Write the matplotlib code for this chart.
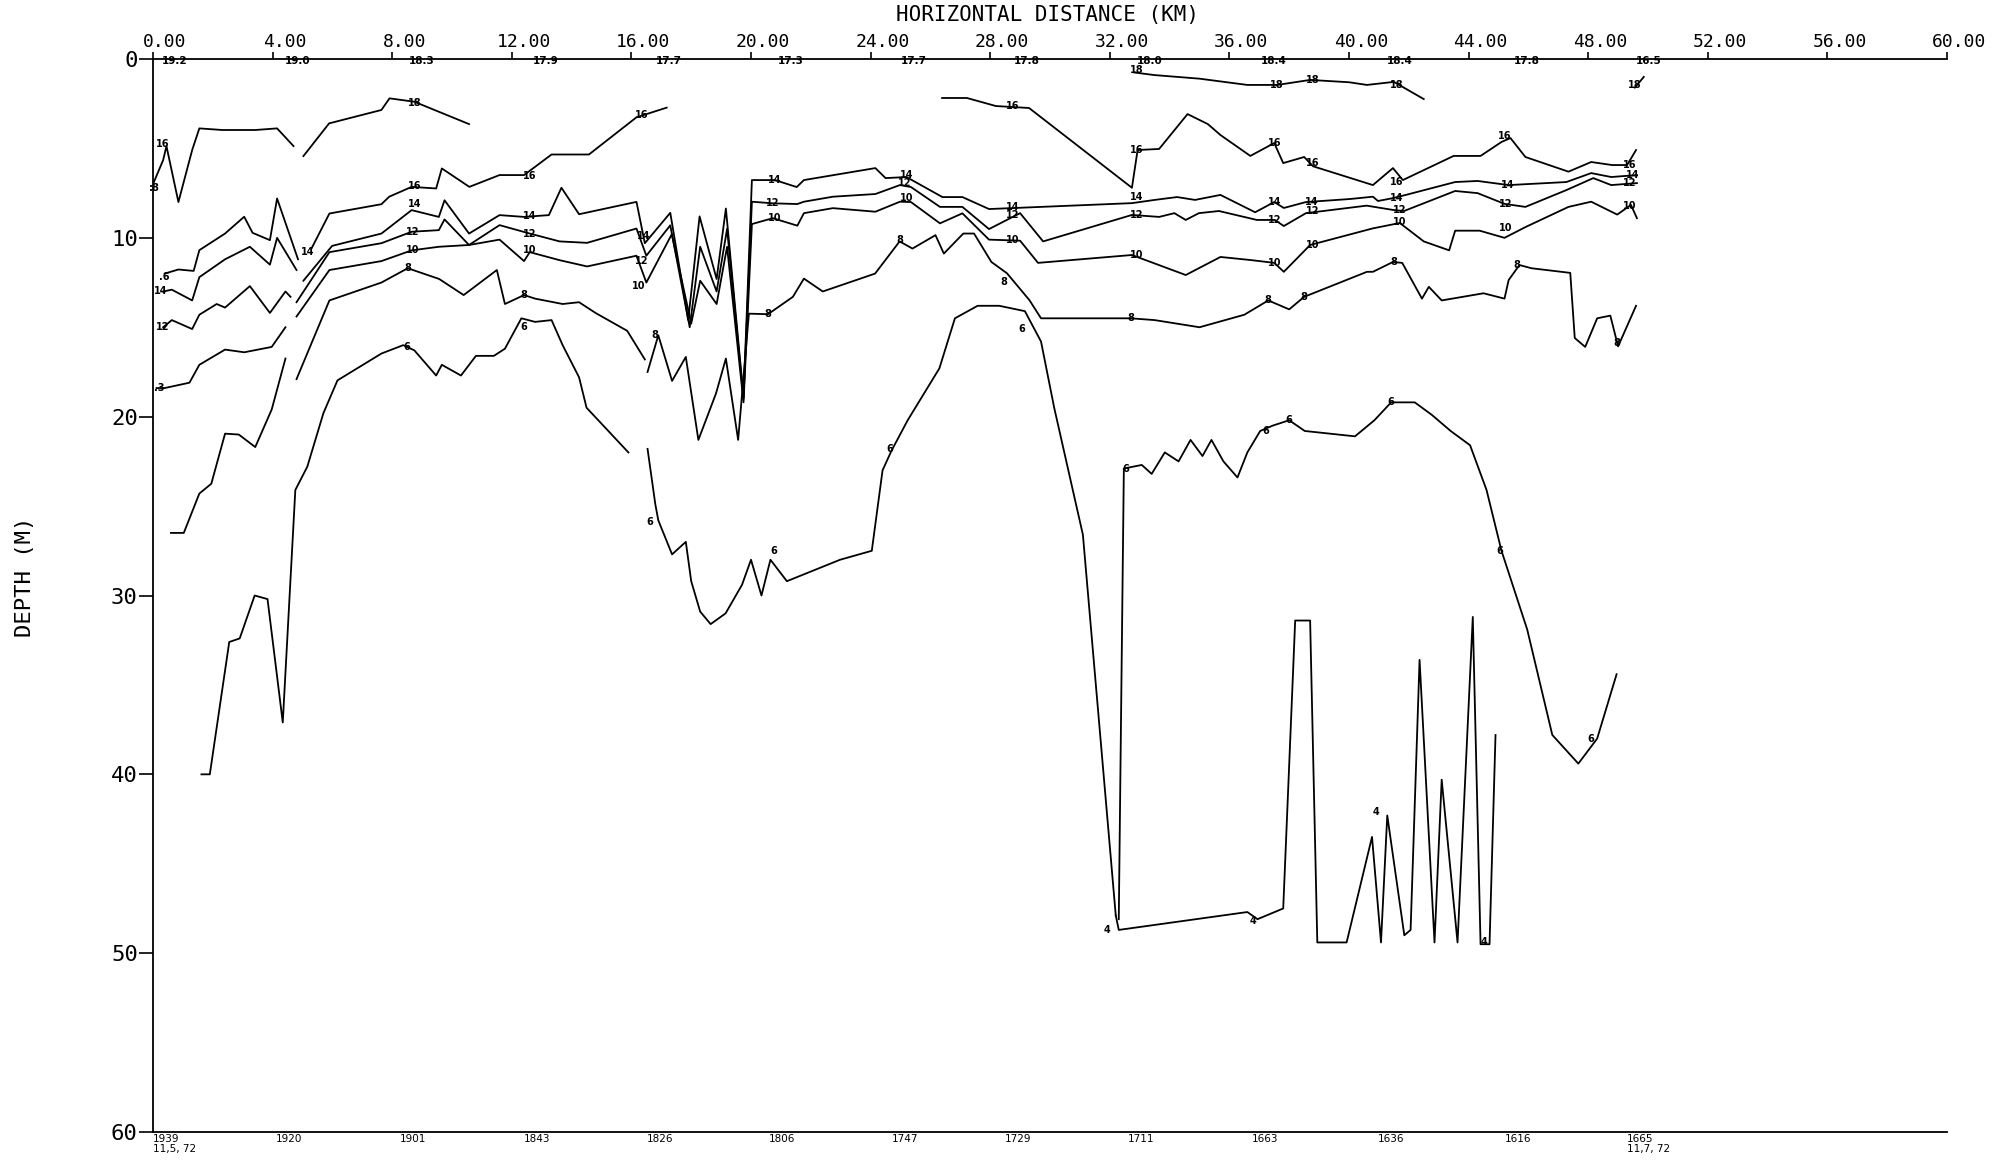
import matplotlib
matplotlib.use("Agg")
import matplotlib.pyplot as plt
from matplotlib import transforms

# Isotherm traces: horizontal distance (km) and depth (m)
iso18_a_km = [0.0, 0.34, 0.45, 0.85, 1.31, 1.55, 2.32, 3.42, 4.15, 4.70]
iso18_a_m = [7.0, 5.65, 4.87, 8.0, 5.09, 3.88, 3.97, 3.97, 3.88, 4.87]
iso18_b_km = [5.03, 5.89, 7.64, 7.91, 8.74, 10.57]
iso18_b_m = [5.43, 3.60, 2.85, 2.2, 2.39, 3.64]
iso18_c_km = [32.8, 33.5, 35.0, 36.6, 37.6, 38.7, 40.0, 40.6, 41.5, 42.5]
iso18_c_m = [0.75, 0.9, 1.1, 1.45, 1.45, 1.17, 1.3, 1.45, 1.28, 2.24]
iso18_d_km = [49.56, 49.86]
iso18_d_m = [1.6, 1.0]

iso16_a_km = [0.39, 0.85, 1.36, 1.55, 2.41, 3.05, 3.33, 3.91, 4.15, 4.85]
iso16_a_m = [12.0, 11.77, 11.85, 10.69, 9.76, 8.82, 9.72, 10.13, 7.8, 11.2]
iso16_b_km = [5.3, 5.9, 7.64, 7.9, 8.65, 9.47, 9.66, 10.58, 11.59, 12.41,
              13.33, 14.58, 16.17, 17.18]
iso16_b_m = [10.6, 8.64, 8.12, 7.7, 7.15, 7.24, 6.12, 7.15, 6.49, 6.49,
             5.34, 5.34, 3.26, 2.72]
iso16_c_km = [26.39, 27.22, 28.19, 29.3, 32.74, 32.93, 33.65, 34.6, 35.28, 35.7,
              36.7, 37.5, 37.8, 38.5, 38.8, 40.8, 41.47, 41.8, 43.5, 44.4,
              45.1, 45.4, 45.9, 47.34, 48.1, 48.8, 49.3, 49.6]
iso16_c_m = [2.18, 2.18, 2.63, 2.74, 7.2, 5.09, 5.03, 3.08, 3.64, 4.25,
             5.42, 4.7, 5.82, 5.48, 6.0, 7.05, 6.1, 6.77, 5.42, 5.42,
             4.64, 4.42, 5.48, 6.3, 5.76, 5.93, 5.93, 5.09]

iso14_a_km = [0.34, 0.63, 1.31, 1.55, 2.41, 3.24, 3.91, 4.15, 4.8]
iso14_a_m = [13.0, 12.9, 13.5, 12.2, 11.2, 10.5, 11.5, 10.0, 11.8]
iso14_b_km = [5.03, 5.99, 7.64, 8.65, 9.56, 9.75, 10.57, 11.59, 12.41, 13.24,
              13.66, 14.25, 16.17, 16.45, 17.3, 17.9, 18.28, 18.85, 19.16, 19.75,
              20.03, 20.8, 21.53, 21.77, 24.16, 24.5, 25.2, 26.4, 27.07, 27.96,
              32.74, 33.5, 34.25, 34.85, 35.7, 36.86, 37.5, 37.82, 38.56, 40.03,
              40.8, 40.97, 41.47, 41.9, 43.55, 44.3, 45.34, 47.27, 48.1, 48.77, 49.63]
iso14_b_m = [12.4, 10.45, 9.76, 8.45, 8.83, 7.9, 9.76, 8.73, 8.83, 8.73,
             7.2, 8.68, 7.99, 10.3, 8.6, 14.6, 8.8, 12.3, 8.36, 18.9,
             6.77, 6.77, 7.16, 6.77, 6.1, 6.66, 6.6, 7.72, 7.72, 8.39,
             8.06, 7.88, 7.72, 7.88, 7.6, 8.57, 8.0, 8.33, 8.0, 7.83,
             7.7, 7.94, 7.78, 7.6, 6.88, 6.82, 7.05, 6.88, 6.38, 6.6, 6.49]

iso12_a_km = [0.34, 0.63, 1.31, 1.55, 2.13, 2.41, 3.24, 3.91, 4.43, 4.6]
iso12_a_m = [15.0, 14.6, 15.1, 14.3, 13.7, 13.9, 12.7, 14.2, 13.0, 13.3]
iso12_b_km = [4.8, 5.9, 7.64, 8.65, 9.56, 9.75, 10.57, 11.59, 12.6, 13.6,
              14.52, 16.17, 16.5, 17.3, 17.95, 18.3, 18.85, 19.2, 19.75, 20.03,
              20.73, 21.55, 21.77, 22.74, 24.16, 24.98, 25.35, 26.32, 27.07, 27.96,
              29.0, 29.77, 32.74, 33.65, 34.16, 34.54, 34.98, 35.65, 36.92, 37.52,
              37.82, 38.56, 40.59, 41.47, 41.84, 43.55, 44.3, 45.2, 45.9, 47.27,
              48.17, 48.77, 49.63]
iso12_b_m = [13.6, 10.8, 10.3, 9.66, 9.57, 8.97, 10.4, 9.29, 9.76, 10.2,
             10.28, 9.48, 11.0, 9.3, 15.0, 10.5, 13.0, 9.5, 19.0, 7.98,
             8.07, 8.11, 7.98, 7.7, 7.55, 7.05, 7.16, 8.27, 8.27, 9.51,
             8.62, 10.2, 8.72, 8.83, 8.62, 9.0, 8.62, 8.5, 9.0, 9.0,
             9.34, 8.62, 8.2, 8.44, 8.5, 7.38, 7.5, 8.1, 8.27, 7.33,
             6.66, 7.05, 6.94]

iso10_a_km = [0.12, 0.39, 1.22, 1.55, 2.41, 3.05, 3.97, 4.43]
iso10_a_m = [18.4, 18.4, 18.1, 17.1, 16.25, 16.4, 16.1, 15.0]
iso10_b_km = [4.8, 5.9, 7.64, 8.65, 9.56, 10.57, 11.59, 12.41, 12.6, 13.6,
              14.52, 16.17, 16.5, 17.35, 18.0, 18.3, 18.85, 19.2, 19.75, 20.03,
              20.73, 21.55, 21.77, 22.74, 24.16, 24.98, 25.35, 26.32, 27.07, 27.96,
              29.0, 29.6, 32.74, 34.54, 35.7, 36.7, 37.5, 37.82, 38.7, 40.8,
              41.7, 42.5, 43.35, 43.55, 44.37, 45.2, 45.9, 47.34, 48.1, 48.97,
              49.43, 49.63]
iso10_b_m = [14.4, 11.8, 11.3, 10.7, 10.5, 10.4, 10.1, 11.3, 10.8, 11.25,
             11.6, 11.0, 12.5, 9.8, 14.8, 12.4, 13.7, 10.5, 19.2, 9.23,
             8.9, 9.32, 8.62, 8.34, 8.54, 7.98, 8.0, 9.19, 8.63, 10.1,
             10.16, 11.4, 10.96, 12.08, 11.07, 11.24, 11.4, 11.9, 10.4, 9.47,
             9.17, 10.2, 10.7, 9.6, 9.6, 10.0, 9.4, 8.27, 7.98, 8.7,
             8.16, 8.9]

iso8_a_km = [0.6, 1.03, 1.55, 1.95, 2.41, 2.87, 3.42, 3.97, 4.43]
iso8_a_m = [26.5, 26.5, 24.3, 23.75, 20.95, 21.0, 21.7, 19.6, 16.75]
iso8_b_km = [4.8, 5.9, 7.64, 8.52, 9.57, 10.39, 11.5, 11.77, 12.41, 12.78,
             13.7, 14.25, 14.8, 15.86, 16.45]
iso8_b_m = [17.9, 13.5, 12.5, 11.7, 12.3, 13.2, 11.8, 13.7, 13.2, 13.4,
            13.7, 13.6, 14.2, 15.2, 16.8]
iso8_c_km = [16.54, 16.9, 17.36, 17.82, 18.24, 18.83, 19.16, 19.57, 19.93, 20.57,
             21.4, 21.77, 22.4, 24.15, 24.97, 25.4, 26.17, 26.45, 27.1, 27.46,
             28.04, 28.56, 29.31, 29.7, 32.7, 33.5, 35.0, 36.5, 37.3, 38.0,
             38.5, 40.6, 40.8, 41.47, 41.78, 42.44, 42.67, 43.1, 44.5, 45.2,
             45.34, 45.7, 46.1, 47.4, 47.55, 47.9, 48.3, 48.74, 49.0, 49.6]
iso8_c_m = [17.5, 15.45, 18.0, 16.66, 21.3, 18.7, 16.75, 21.3, 14.24, 14.27,
            13.3, 12.28, 13.0, 12.0, 10.2, 10.6, 9.85, 10.88, 9.76, 9.76,
            11.35, 11.98, 13.48, 14.5, 14.5, 14.6, 15.0, 14.3, 13.5, 14.0,
            13.3, 11.9, 11.9, 11.35, 11.4, 13.4, 12.74, 13.5, 13.1, 13.4,
            12.36, 11.52, 11.7, 11.96, 15.6, 16.1, 14.5, 14.35, 16.07, 13.8]

iso6_a_km = [1.62, 1.9, 2.55, 2.9, 3.4, 3.83, 4.34, 4.76, 5.16, 5.7,
             6.17, 7.64, 8.37, 8.74, 9.47, 9.66, 10.3, 10.8, 11.4, 11.77,
             12.32, 12.78, 13.33, 13.7, 14.25, 14.5, 15.9]
iso6_a_m = [40.0, 40.0, 32.6, 32.4, 30.0, 30.2, 37.1, 24.1, 22.8, 19.8,
            17.97, 16.47, 16.0, 16.29, 17.7, 17.1, 17.7, 16.6, 16.6, 16.2,
            14.5, 14.7, 14.6, 16.0, 17.8, 19.5, 22.0]
iso6_b_km = [16.54, 16.8, 16.9, 17.36, 17.82, 18.0, 18.3, 18.65, 19.15, 19.7,
             20.0, 20.35, 20.65, 21.2, 22.98, 24.04, 24.4, 24.7, 25.24, 26.3,
             26.82, 27.58, 28.3, 29.16, 29.7, 30.14, 31.1, 32.2]
iso6_b_m = [21.8, 24.9, 25.8, 27.7, 27.0, 29.2, 30.9, 31.6, 31.0, 29.4,
            28.0, 30.0, 28.0, 29.2, 28.0, 27.5, 23.0, 21.9, 20.2, 17.3,
            14.5, 13.8, 13.8, 14.1, 15.8, 19.5, 26.6, 47.9]
iso6_c_km = [32.3, 32.47, 33.07, 33.4, 33.84, 34.3, 34.7, 35.1, 35.4, 35.8,
             36.27, 36.6, 37.03, 37.45, 38.0, 38.52, 40.2, 40.85, 41.41, 42.2,
             42.77, 43.4, 44.05, 44.6, 45.1, 45.96, 46.8, 47.67, 48.3, 48.95]
iso6_c_m = [48.1, 22.9, 22.7, 23.2, 22.0, 22.5, 21.3, 22.2, 21.3, 22.5,
            23.4, 22.0, 20.8, 20.5, 20.2, 20.8, 21.1, 20.2, 19.2, 19.2,
            19.9, 20.8, 21.6, 24.1, 27.5, 31.9, 37.8, 39.4, 38.0, 34.4]

iso4_km = [32.2, 32.3, 36.6, 36.94, 37.8, 38.2, 38.7, 38.94, 39.92, 40.77,
           41.07, 41.28, 41.85, 42.06, 42.36, 42.86, 43.1, 43.63, 44.14, 44.4,
           44.7, 44.9]
iso4_m = [47.9, 48.7, 47.7, 48.1, 47.5, 31.4, 31.4, 49.4, 49.4, 43.5,
          49.4, 42.3, 49.0, 48.7, 33.6, 49.4, 40.3, 49.4, 31.2, 49.5,
          49.5, 37.8]

# Contour value labels written along the traces
lab_text = ["16", ":8", "18", ".6", "14", "12", ".3", "14",
            "16", "14", "12", "10", "8", "6",
            "16", "14", "12", "10", "8", "6",
            "16", "14", "12", "10", "8", "6", "8", "6",
            "14", "12", "10", "14", "12", "10", "8", "6",
            "16", "14", "12", "10", "8", "6", "4",
            "18", "16", "14", "12", "10", "8", "6",
            "18", "18", "16", "16", "14", "14", "12", "12", "10", "10",
            "8", "8", "6", "6", "4",
            "18", "16", "14", "12", "10", "8", "6", "4",
            "16", "14", "12", "10", "8", "6", "4",
            "18", "16", "14", "12", "10", "8", "6"]
lab_km = [0.33, 0.05, 8.74, 0.39, 0.25, 0.34, 0.2, 5.16,
          8.74, 8.74, 8.68, 8.68, 8.52, 8.47,
          12.6, 12.6, 12.6, 12.6, 12.41, 12.41,
          16.35, 16.4, 16.35, 16.26, 16.78, 16.63, 20.57, 20.76,
          20.8, 20.73, 20.8, 25.2, 25.15, 25.2, 24.98, 24.65,
          28.75, 28.75, 28.75, 28.75, 28.45, 29.06, 31.92,
          32.9, 32.9, 32.9, 32.9, 32.9, 32.7, 32.55,
          37.6, 38.8, 37.5, 38.8, 37.5, 38.75, 37.5, 38.8, 37.5, 38.8,
          37.3, 38.5, 37.2, 38.0, 36.8,
          41.6, 41.6, 41.6, 41.7, 41.7, 41.5, 41.4, 40.9,
          45.2, 45.3, 45.25, 45.25, 45.6, 45.03, 44.5,
          49.56, 49.4, 49.5, 49.4, 49.4, 48.95, 48.1]
lab_m = [4.75, 7.2, 2.45, 12.2, 13.0, 15.0, 18.4, 10.8,
         7.1, 8.1, 9.66, 10.7, 11.7, 16.1,
         6.55, 8.8, 9.76, 10.7, 13.2, 15.0,
         3.13, 9.9, 11.3, 12.7, 15.45, 25.9, 14.27, 27.5,
         6.77, 8.07, 8.9, 6.5, 6.95, 7.8, 10.1, 21.8,
         2.63, 8.3, 8.75, 10.1, 12.45, 15.1, 48.7,
         0.6, 5.09, 7.73, 8.72, 10.96, 14.5, 22.9,
         1.45, 1.17, 4.7, 5.82, 8.0, 8.0, 9.0, 8.5, 11.4, 10.4,
         13.5, 13.3, 20.8, 20.2, 48.2,
         1.45, 6.86, 7.8, 8.44, 9.1, 11.35, 19.2, 42.1,
         4.3, 7.05, 8.1, 9.43, 11.5, 27.5, 49.4,
         1.45, 5.9, 6.5, 6.95, 8.2, 15.9, 38.0]

# Stations: surface temperature on top, station number on bottom
station_km = [0.0, 4.1, 8.25, 12.4, 16.5, 20.6, 24.7, 28.5, 32.6, 36.75, 40.95, 45.2, 49.3]
station_id = ["1939", "1920", "1901", "1843", "1826", "1806", "1747",
              "1729", "1711", "1663", "1636", "1616", "1665"]
surface_temp = [19.2, 19.0, 18.3, 17.9, 17.7, 17.3, 17.7, 17.8, 18.0, 18.4, 18.4, 17.8, 16.5]
cruise_dates = ["11,5, 72", "11,7, 72"]

segments = [
    (iso18_a_km, iso18_a_m), (iso18_b_km, iso18_b_m), (iso18_c_km, iso18_c_m), (iso18_d_km, iso18_d_m),
    (iso16_a_km, iso16_a_m), (iso16_b_km, iso16_b_m), (iso16_c_km, iso16_c_m),
    (iso14_a_km, iso14_a_m), (iso14_b_km, iso14_b_m),
    (iso12_a_km, iso12_a_m), (iso12_b_km, iso12_b_m),
    (iso10_a_km, iso10_a_m), (iso10_b_km, iso10_b_m),
    (iso8_a_km, iso8_a_m), (iso8_b_km, iso8_b_m), (iso8_c_km, iso8_c_m),
    (iso6_a_km, iso6_a_m), (iso6_b_km, iso6_b_m), (iso6_c_km, iso6_c_m),
    (iso4_km, iso4_m),
]

mono = "DejaVu Sans Mono"

W, H = 1996, 1161
fig = plt.figure(figsize=(W / 100, H / 100), dpi=100)
ax = fig.add_axes([153 / W, 1 - 1132 / H, 1794 / W, 1073 / H])
ax.set_xlim(0, 60)
ax.set_ylim(60, 0)

for km, m in segments:
    ax.plot(km, m, color="black", lw=1.3)

for t, x, y in zip(lab_text, lab_km, lab_m):
    ax.text(x, y, t, ha="center", va="center", fontsize=7, fontweight="bold")

for x, t in zip(station_km, surface_temp):
    ax.text(x + 0.3, 0.1, f"{t:.1f}", ha="left", va="center", fontsize=7.5,
            fontweight="bold", clip_on=False)

for x, s in zip(station_km, station_id):
    ax.text(x, 60.4, s, ha="left", va="center", fontsize=7.5, clip_on=False)
ax.text(station_km[0], 60.95, cruise_dates[0], ha="left", va="center", fontsize=7.5, clip_on=False)
ax.text(station_km[-1], 60.95, cruise_dates[1], ha="left", va="center", fontsize=7.5, clip_on=False)

# axes frame: no right side, ticks only on top and left
ax.spines["right"].set_visible(False)
for side in ["top", "left", "bottom"]:
    ax.spines[side].set_linewidth(1.3)

ax.xaxis.tick_top()
xt = list(range(0, 61, 4))
ax.set_xticks(xt)
ax.set_xticklabels([f"{v:.2f}" for v in xt], family=mono)
ax.tick_params(axis="x", direction="out", length=5, width=1.2, pad=1, labelsize=13)
shift = transforms.ScaledTranslation(0.12, 0, fig.dpi_scale_trans)
for lab in ax.get_xticklabels():
    lab.set_transform(lab.get_transform() + shift)

yt = list(range(0, 61, 10))
ax.set_yticks(yt)
ax.set_yticklabels([str(v) for v in yt], family=mono)
ax.tick_params(axis="y", direction="out", length=10, width=1.2, pad=1, labelsize=16)

fig.text(1047 / W, 1 - 15 / H, "HORIZONTAL DISTANCE (KM)", ha="center", va="center",
         fontsize=15, family=mono)
fig.text(25 / W, 1 - 577 / H, "DEPTH (M)", rotation=90, ha="center", va="center",
         fontsize=16, family=mono)

fig.savefig("out.png", dpi=100)
